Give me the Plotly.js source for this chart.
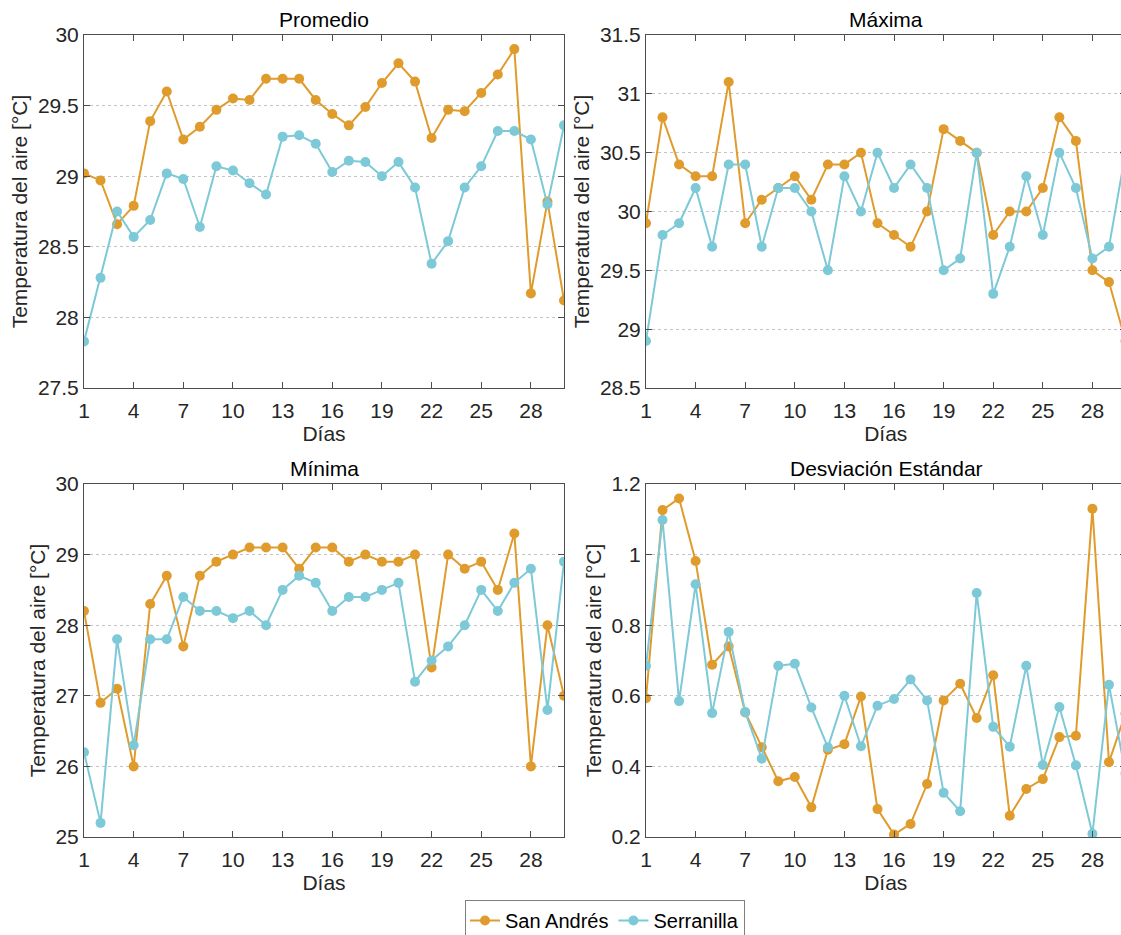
<!DOCTYPE html>
<html>
<head>
<meta charset="utf-8">
<script src="https://cdn.plot.ly/plotly-3.0.1.min.js"></script>
<style>
html, body { margin: 0; padding: 0; overflow: hidden; background: #fff; }
#chart { width: 1130px; height: 960px; }
</style>
</head>
<body>
<div id="chart"></div>
<script>
const dias = [1,2,3,4,5,6,7,8,9,10,11,12,13,14,15,16,17,18,19,20,21,22,23,24,25,26,27,28,29,30];
const seriesNames = ["San Andrés", "Serranilla"];
const panelTitles = ["Promedio", "Máxima", "Mínima", "Desviación Estándar"];
const xTickVals = [1,4,7,10,13,16,19,22,25,28];

const promSanAndres = [29.02,28.97,28.66,28.79,29.39,29.60,29.26,29.35,29.47,29.55,29.54,29.69,29.69,29.69,29.54,29.44,29.36,29.49,29.66,29.80,29.67,29.27,29.47,29.46,29.59,29.72,29.90,28.17,28.82,28.12];
const promSerranilla = [27.83,28.28,28.75,28.57,28.69,29.02,28.98,28.64,29.07,29.04,28.95,28.87,29.28,29.29,29.23,29.03,29.11,29.10,29.00,29.10,28.92,28.38,28.54,28.92,29.07,29.32,29.32,29.26,28.80,29.36];

const maxSanAndres = [29.9,30.8,30.4,30.3,30.3,31.1,29.9,30.1,30.2,30.3,30.1,30.4,30.4,30.5,29.9,29.8,29.7,30.0,30.7,30.6,30.5,29.8,30.0,30.0,30.2,30.8,30.6,29.5,29.4,28.9];
const maxSerranilla = [28.9,29.8,29.9,30.2,29.7,30.4,30.4,29.7,30.2,30.2,30.0,29.5,30.3,30.0,30.5,30.2,30.4,30.2,29.5,29.6,30.5,29.3,29.7,30.3,29.8,30.5,30.2,29.6,29.7,30.5];

const minSanAndres = [28.2,26.9,27.1,26.0,28.3,28.7,27.7,28.7,28.9,29.0,29.1,29.1,29.1,28.8,29.1,29.1,28.9,29.0,28.9,28.9,29.0,27.4,29.0,28.8,28.9,28.5,29.3,26.0,28.0,27.0];
const minSerranilla = [26.2,25.2,27.8,26.3,27.8,27.8,28.4,28.2,28.2,28.1,28.2,28.0,28.5,28.7,28.6,28.2,28.4,28.4,28.5,28.6,27.2,27.5,27.7,28.0,28.5,28.2,28.6,28.8,26.8,28.9];

const stdSanAndres = [0.593,1.126,1.159,0.982,0.688,0.740,0.553,0.454,0.358,0.370,0.284,0.447,0.463,0.598,0.279,0.207,0.237,0.350,0.587,0.634,0.537,0.658,0.260,0.336,0.364,0.483,0.487,1.130,0.412,0.550];
const stdSerranilla = [0.685,1.098,0.585,0.916,0.551,0.781,0.554,0.422,0.685,0.691,0.567,0.454,0.600,0.457,0.572,0.591,0.646,0.587,0.325,0.273,0.891,0.512,0.456,0.685,0.404,0.568,0.403,0.209,0.631,0.380];

const yRanges = [[27.5,30],[28.5,31.5],[25,30],[0.2,1.2]];
const yDtick = [0.5,0.5,1,0.2];

const colors = ["#E09B2D", "#7DC9D7"];
const W = 1130, H = 960;
const font = "Liberation Sans, Arial, sans-serif";

const panelData = [
  [promSanAndres, promSerranilla],
  [maxSanAndres, maxSerranilla],
  [minSanAndres, minSerranilla],
  [stdSanAndres, stdSerranilla]
];

// pixel boxes of panels
const xPix = [[84, 564], [646, 1125.5]];
const yPix = [[35, 388], [484, 837]];

const traces = [];
panelData.forEach((pair, p) => {
  const ax = p === 0 ? '' : String(p + 1);
  pair.forEach((vals, s) => {
    traces.push({
      x: dias, y: vals, type: 'scatter', mode: 'lines+markers',
      name: seriesNames[s], legendgroup: seriesNames[s], showlegend: p === 0,
      line: {color: colors[s], width: 2},
      marker: {color: colors[s], size: 10},
      xaxis: 'x' + ax, yaxis: 'y' + ax, cliponaxis: true
    });
  });
});

const layout = {
  width: W, height: H,
  margin: {l: 0, r: 0, t: 0, b: 0},
  paper_bgcolor: '#fff', plot_bgcolor: '#fff',
  font: {family: font, color: '#262626', size: 20},
  showlegend: true,
  legend: {
    orientation: 'h', x: 605 / W, xanchor: 'center', y: 1 - 900 / H, yanchor: 'top',
    bordercolor: '#7f7f7f', borderwidth: 1, font: {size: 20, color: '#000'},
    itemwidth: 30, tracegroupgap: 0
  },
  annotations: []
};

for (let p = 0; p < 4; p++) {
  const ax = p === 0 ? '' : String(p + 1);
  const col = p % 2, row = Math.floor(p / 2);
  const xd = [xPix[col][0] / W, xPix[col][1] / W];
  const yd = [1 - yPix[row][1] / H, 1 - yPix[row][0] / H];
  layout['xaxis' + ax] = {
    domain: xd, range: [1, 30], tickvals: xTickVals, ticks: 'inside', ticklen: 6,
    tickcolor: '#4d4d4d', showline: true, linecolor: '#4d4d4d', linewidth: 1, mirror: 'ticks',
    showgrid: false, zeroline: false, anchor: 'y' + ax,
    tickfont: {size: 21, color: '#262626'}, ticklabelstandoff: 4,
    title: {text: 'Días', font: {size: 21, color: '#262626'}, standoff: 4}
  };
  layout['yaxis' + ax] = {
    domain: yd, range: yRanges[p], dtick: yDtick[p], tick0: 0, ticks: 'inside', ticklen: 6,
    tickcolor: '#4d4d4d', showline: true, linecolor: '#4d4d4d', linewidth: 1, mirror: 'ticks',
    showgrid: true, gridcolor: '#c4c4c4', griddash: 'dot', gridwidth: 1,
    zeroline: false, anchor: 'x' + ax,
    tickfont: {size: 21, color: '#262626'},
    title: {text: 'Temperatura del aire [°C]', font: {size: 21, color: '#262626'}, standoff: 4}
  };
  const cx = col === 1 ? (xPix[col][0] + 480 / 2) / W : (xd[0] + xd[1]) / 2;
  layout.annotations.push({
    text: panelTitles[p], xref: 'paper', yref: 'paper',
    x: cx, y: yd[1], xanchor: 'center', yanchor: 'bottom', yshift: 2, showarrow: false,
    font: {size: 21, color: '#000'}
  });
}

Plotly.newPlot('chart', traces, layout, {displayModeBar: false, staticPlot: true});
</script>
</body>
</html>
